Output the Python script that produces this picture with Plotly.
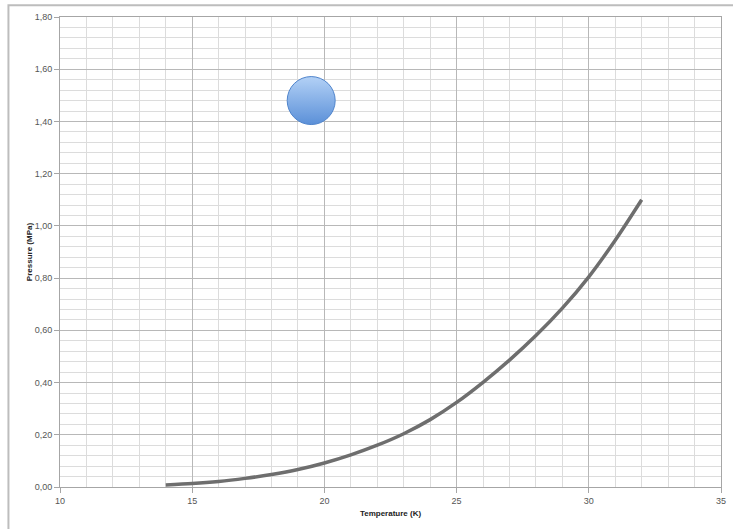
import plotly.graph_objects as go

# Data
temperature_k = [14, 15, 16, 17, 18, 19, 20, 21, 22, 23, 24, 25, 26, 27, 28, 29, 30, 31, 32]
pressure_mpa = [0.008, 0.013, 0.021, 0.033, 0.048, 0.067, 0.092, 0.123, 0.160, 0.204, 0.258,
                0.324, 0.401, 0.486, 0.580, 0.685, 0.805, 0.945, 1.100]
marker_x = [19.5]
marker_y = [1.48]

x_title = "Temperature (K)"
y_title = "Pressure (MPa)"

FONT = "Liberation Sans, Arial, sans-serif"
MINOR = "#dcdcdc"
MAJOR = "#b8b8b8"

fig = go.Figure()
fig.add_trace(go.Scatter(
    x=temperature_k, y=pressure_mpa, mode="lines",
    line=dict(color="#6e6e6e", width=3.5, shape="spline", smoothing=0.8),
    hoverinfo="skip", showlegend=False,
))
fig.add_trace(go.Scatter(
    x=marker_x, y=marker_y, mode="markers",
    marker=dict(size=48, color="#b3d1f6",
                gradient=dict(type="vertical", color="#5b90d8"),
                line=dict(color="#4f84cc", width=1)),
    hoverinfo="skip", showlegend=False,
))

fig.update_layout(
    width=733, height=529,
    margin=dict(l=60, r=7, t=17, b=42),
    paper_bgcolor="white", plot_bgcolor="white",
    separators=",.",
    font=dict(family=FONT, size=9, color="#555555"),
    showlegend=False,
    xaxis=dict(
        range=[10, 35], dtick=5, tick0=10,
        showgrid=True, gridcolor=MAJOR, gridwidth=1,
        minor=dict(dtick=1, showgrid=True, gridcolor=MINOR, gridwidth=1),
        showline=True, linecolor="#a6a6a6", linewidth=1, mirror=True,
        ticks="outside", ticklen=5, tickcolor="#a6a6a6",
        zeroline=False,
        title=dict(text="<b>" + x_title + "</b>", font=dict(size=8, color="#222222"), standoff=5),
    ),
    yaxis=dict(
        range=[0, 1.8], dtick=0.2, tick0=0, tickformat=".2f",
        showgrid=True, gridcolor=MAJOR, gridwidth=1,
        minor=dict(dtick=0.04, showgrid=True, gridcolor=MINOR, gridwidth=1),
        showline=True, linecolor="#a6a6a6", linewidth=1, mirror=True,
        ticks="outside", ticklen=5, tickcolor="#a6a6a6",
        zeroline=False,
        title=dict(text="<b>" + y_title + "</b>", font=dict(size=8, color="#222222"), standoff=0),
    ),
    shapes=[dict(type="rect", xref="paper", yref="paper",
                 x0=-0.078, x1=1.05, y0=-0.2, y1=1.025,
                 line=dict(color="#bdbdbd", width=2), layer="above")],
)

fig.write_html(
    "out.html",
    config={"displayModeBar": False},
    post_script="document.body.style.margin='0';document.body.style.overflow='hidden';",
)
